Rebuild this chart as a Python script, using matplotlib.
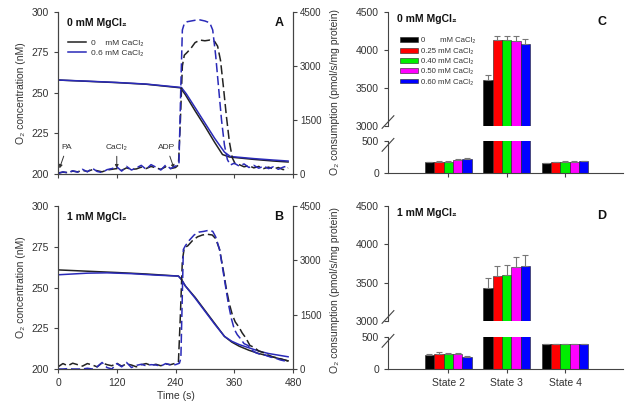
import matplotlib
matplotlib.use("Agg")
import matplotlib.pyplot as plt
from matplotlib.patches import Patch
from matplotlib.lines import Line2D
import numpy as np

plt.rcParams['font.family'] = ['Liberation Sans', 'DejaVu Sans']
plt.rcParams['font.size'] = 7
TXT = "#333333"

# ---- panel A: O2 concentration (nM) ----
t_o2_a_black = [0, 60, 120, 180, 250, 260, 280, 300, 320, 336, 350, 400, 440, 470]
o2_a_black = [258, 257.2, 256.4, 255.4, 253.2, 249, 239, 229.5, 219.5, 212, 210.5, 209, 208, 207.4]
t_o2_a_blue = [0, 60, 120, 180, 252, 262, 280, 300, 320, 340, 352, 400, 440, 470]
o2_a_blue = [258, 257.3, 256.5, 255.5, 253.4, 249.5, 241, 231.5, 222, 213.5, 210.8, 209.5, 208.6, 208]

# ---- panel A: O2 flux (right axis) ----
t_fl_a_black = [0, 10, 20, 30, 40, 50, 60, 70, 80, 90, 100, 110, 120, 130, 140, 150, 160, 170,
                180, 190, 200, 210, 220, 230, 240, 246, 250, 254, 258, 264, 272, 280, 290, 300,
                310, 320, 326, 332, 338, 344, 350, 356, 362, 370, 380, 390, 400, 410, 420, 430,
                440, 450, 460, 470]
fl_a_black = [30, 50, 40, 80, 60, 100, 70, 120, 90, 60, 110, 130, 150, 100, 170, 130, 140, 190,
              150, 210, 170, 130, 200, 150, 180, 250, 1500, 3000, 3300, 3380, 3500, 3650, 3720, 3700,
              3720, 3680, 3550, 3150, 2400, 1600, 900, 450, 280, 260, 200, 230, 170, 210, 150, 190,
              140, 180, 120, 170]
t_fl_a_blue = [0, 10, 20, 30, 40, 50, 60, 70, 80, 90, 100, 110, 120, 130, 140, 150, 160, 170,
               180, 190, 200, 210, 220, 230, 240, 247, 251, 254, 258, 264, 272, 280, 290, 300,
               310, 316, 322, 328, 334, 340, 346, 352, 360, 370, 380, 390, 400, 410, 420, 430,
               440, 450, 460, 470]
fl_a_blue = [10, 60, 30, 90, 50, 130, 60, 160, 70, 40, 120, 150, 200, 80, 210, 110, 170, 240,
             130, 260, 190, 110, 250, 150, 220, 260, 2500, 4000, 4180, 4230, 4250, 4270, 4280, 4250,
             4200, 4000, 3300, 2400, 1500, 800, 400, 250, 300, 220, 280, 180, 240, 160, 220, 150,
             200, 130, 190, 230]

# ---- panel B: O2 concentration ----
t_o2_b_black = [0, 60, 120, 180, 246, 252, 260, 280, 300, 320, 340, 355, 370, 390, 410, 430, 450, 470]
o2_b_black = [260.8, 260, 259.2, 258.3, 257, 255, 251, 244, 236, 228, 220, 216.5, 214, 211.5, 209.5, 208, 206.5, 205]
t_o2_b_blue = [0, 30, 60, 100, 150, 200, 246, 252, 260, 280, 300, 320, 340, 355, 370, 390, 410, 430, 450, 470]
o2_b_blue = [257.8, 258.3, 258.8, 259, 258.5, 257.6, 257, 255, 251, 243.5, 235.5, 227.5, 220, 217, 215, 213, 211, 209.5, 208.5, 207.5]

# ---- panel B: O2 flux ----
t_fl_b_black = [0, 10, 20, 30, 40, 50, 60, 70, 80, 90, 100, 110, 120, 130, 140, 150, 160, 170,
                180, 190, 200, 210, 220, 230, 240, 246, 250, 254, 258, 265, 275, 285, 295, 305,
                315, 322, 330, 338, 344, 350, 356, 362, 370, 376, 384, 392, 400, 410, 420, 430,
                440, 450, 460, 470]
fl_b_black = [60, 150, 90, 160, 120, 80, 150, 110, 60, 170, 120, 90, 160, 80, 140, 110, 60, 120,
              150, 100, 130, 90, 140, 120, 160, 200, 1500, 3000, 3350, 3400, 3550, 3650, 3700, 3720,
              3700, 3600, 3300, 2700, 2200, 1800, 1500, 1300, 1150, 1000, 850, 650, 600, 500, 450, 380,
              330, 300, 260, 220]
t_fl_b_blue = [0, 10, 20, 30, 40, 50, 60, 70, 80, 90, 100, 110, 120, 130, 140, 150, 160, 170,
               180, 190, 200, 210, 220, 230, 240, 248, 251, 253, 256, 260, 268, 278, 288, 298,
               308, 316, 322, 330, 336, 342, 348, 354, 360, 366, 372, 380, 388, 396, 404, 414,
               424, 434, 444, 454, 464, 470]
fl_b_blue = [0, 0, 10, 0, 0, 0, 20, 0, 60, 180, 40, 0, 150, 60, 180, 40, 100, 130,
             90, 120, 110, 80, 150, 110, 120, 160, 300, 1500, 3300, 3400, 3550, 3700, 3780, 3800,
             3830, 3800, 3650, 3300, 2800, 2300, 1800, 1400, 1100, 950, 850, 700, 650, 520, 450, 400,
             380, 330, 300, 250, 220, 260]

# ---- panels C / D: bar data ----
states = ["State 2", "State 3", "State 4"]
ca_labels = ["0       mM CaCl\u2082", "0.25 mM CaCl\u2082", "0.40 mM CaCl\u2082",
             "0.50 mM CaCl\u2082", "0.60 mM CaCl\u2082"]
bar_colors = ["#000000", "#ff0000", "#00ee00", "#ff00ff", "#0000ff"]

c_vals = [[168, 172, 172, 200, 215],
          [3610, 4130, 4130, 4125, 4085],
          [152, 165, 172, 172, 185]]
c_err = [[10, 10, 10, 12, 18],
         [65, 60, 50, 55, 65],
         [8, 8, 8, 8, 8]]
d_vals = [[215, 240, 228, 228, 195],
          [3435, 3590, 3600, 3700, 3715],
          [385, 385, 388, 390, 388]]
d_err = [[12, 18, 15, 15, 15],
         [120, 130, 130, 140, 145],
         [5, 5, 5, 5, 5]]

fig = plt.figure(figsize=(6.32, 4.09), dpi=100)


def style_ax(ax):
    for s in ax.spines.values():
        s.set_color("#444444")
        s.set_linewidth(0.8)
    ax.tick_params(colors="#444444", labelcolor=TXT, labelsize=7.5, length=3, width=0.8)


def trace_panel(rect, o2_sets, fl_sets, title, letter, xlabels):
    ax = fig.add_axes(rect)
    ax2 = ax.twinx()
    for t, v, c in o2_sets:
        ax.plot(t, v, color=c, lw=1.1)
    for t, v, c in fl_sets:
        ax2.plot(t, v, color=c, lw=1.1, dashes=(6, 2.5))
    ax.set_xlim(0, 480)
    ax.set_ylim(200, 300)
    ax.set_yticks([200, 225, 250, 275, 300])
    ax.set_xticks([0, 120, 240, 360, 480])
    if not xlabels:
        ax.set_xticklabels([])
    else:
        ax.set_xlabel("Time (s)", color=TXT, fontsize=7.5, labelpad=2)
    ax2.set_ylim(0, 4500)
    ax2.set_yticks([0, 1500, 3000, 4500])
    ax.set_ylabel("O\u2082 concentration (nM)", color=TXT, fontsize=7.5, labelpad=4)
    for a in (ax, ax2):
        style_ax(a)
        a.spines["top"].set_visible(False)
    ax2.tick_params(axis="y", labelsize=7, pad=2)
    ax.text(0.04, 0.93, title, transform=ax.transAxes, fontsize=7.5, fontweight="bold",
            va="center", color="#111111")
    ax.text(0.96, 0.93, letter, transform=ax.transAxes, fontsize=9, fontweight="bold",
            ha="right", va="center", color="#111111")
    return ax, ax2


axA, axA2 = trace_panel([0.0918, 0.5746, 0.3718, 0.3961],
                        [(t_o2_a_black, o2_a_black, "#222222"), (t_o2_a_blue, o2_a_blue, "#2a2ab8")],
                        [(t_fl_a_black, fl_a_black, "#222222"), (t_fl_a_blue, fl_a_blue, "#2a2ab8")],
                        "0 mM MgCl\u2082", "A", False)
axB, axB2 = trace_panel([0.0918, 0.0978, 0.3718, 0.3985],
                        [(t_o2_b_black, o2_b_black, "#222222"), (t_o2_b_blue, o2_b_blue, "#2a2ab8")],
                        [(t_fl_b_black, fl_b_black, "#222222"), (t_fl_b_blue, fl_b_blue, "#2a2ab8")],
                        "1 mM MgCl\u2082", "B", True)

axA.legend(handles=[Line2D([], [], color="#222222", lw=1.1, label="0    mM CaCl\u2082"),
                    Line2D([], [], color="#2a2ab8", lw=1.1, label="0.6 mM CaCl\u2082")],
           loc="upper left", bbox_to_anchor=(0.01, 0.88), frameon=False, fontsize=6,
           handlelength=2.2, handletextpad=0.6, labelspacing=0.3, labelcolor=TXT)

# additions (arrows) in panel A
for lbl, tx, tt in [("PA", 18, 3), ("CaCl\u2082", 120, 120), ("ADP", 222, 237)]:
    axA.annotate(lbl, xy=(tt, 203.5), xytext=(tx, 216.5), ha="center", va="center",
                 fontsize=6, color=TXT,
                 arrowprops=dict(arrowstyle="-|>", color="#333333", lw=0.7, mutation_scale=5,
                                 shrinkA=2, shrinkB=0))


def bar_panel(top_rect, bot_rect, vals, errs, title, letter, xlabels):
    axt = fig.add_axes(top_rect)
    axb = fig.add_axes(bot_rect)
    x = np.arange(len(states))
    w = 0.16
    for ax in (axt, axb):
        for i in range(5):
            h = [vals[g][i] for g in range(3)]
            e = [errs[g][i] for g in range(3)]
            ax.bar(x + (i - 2) * w, h, w, color=bar_colors[i], edgecolor="#222222", lw=0.4,
                   yerr=[np.zeros(3), e], error_kw=dict(ecolor="#777777", elinewidth=0.8,
                                                       capsize=2.2, capthick=0.8))
        ax.set_xlim(-1.03, 2.99)
        style_ax(ax)
        ax.spines["top"].set_visible(False)
        ax.spines["right"].set_visible(False)
    axt.set_ylim(3000, 4500)
    axt.set_yticks([3000, 3500, 4000, 4500])
    axt.spines["bottom"].set_visible(False)
    axt.tick_params(axis="x", bottom=False, labelbottom=False)
    axb.set_ylim(0, 500)
    axb.set_yticks([0, 500])
    axb.set_xticks(x)
    if xlabels:
        axb.set_xticklabels(states, fontsize=7.5, color=TXT)
    else:
        axb.set_xticklabels([])
    # break marks
    kw = dict(color="#444444", lw=0.8, clip_on=False)
    axt.plot([-0.025, 0.025], [-0.02, 0.09], transform=axt.transAxes, **kw)
    axb.plot([-0.025, 0.025], [0.68, 1.08], transform=axb.transAxes, **kw)
    axt.text(0.04, 0.94, title, transform=axt.transAxes, fontsize=7.5, fontweight="bold",
             va="center", color="#111111")
    axt.text(0.93, 0.91, letter, transform=axt.transAxes, fontsize=9, fontweight="bold",
             ha="right", va="center", color="#111111")
    return axt, axb


axCt, axCb = bar_panel([0.6139, 0.6919, 0.3718, 0.2787], [0.6139, 0.577, 0.3718, 0.0782],
                       c_vals, c_err, "0 mM MgCl\u2082", "C", False)
axDt, axDb = bar_panel([0.6139, 0.2152, 0.3718, 0.2812], [0.6139, 0.0978, 0.3718, 0.0782],
                       d_vals, d_err, "1 mM MgCl\u2082", "D", True)

axCt.legend(handles=[Patch(facecolor=c, edgecolor="#222222", lw=0.4, label=l)
                     for c, l in zip(bar_colors, ca_labels)],
            loc="upper left", bbox_to_anchor=(0.02, 0.84), frameon=False, fontsize=5.6,
            handlelength=2.4, handleheight=0.6, handletextpad=0.4, labelspacing=0.4,
            labelcolor=TXT)

fig.text(0.53, 0.775, "O\u2082 consumption (pmol/s/mg protein)", rotation=90, ha="center",
         va="center", fontsize=7.5, color=TXT)
fig.text(0.53, 0.29, "O\u2082 consumption (pmol/s/mg protein)", rotation=90, ha="center",
         va="center", fontsize=7.5, color=TXT)

fig.savefig("out.png", dpi=100)
